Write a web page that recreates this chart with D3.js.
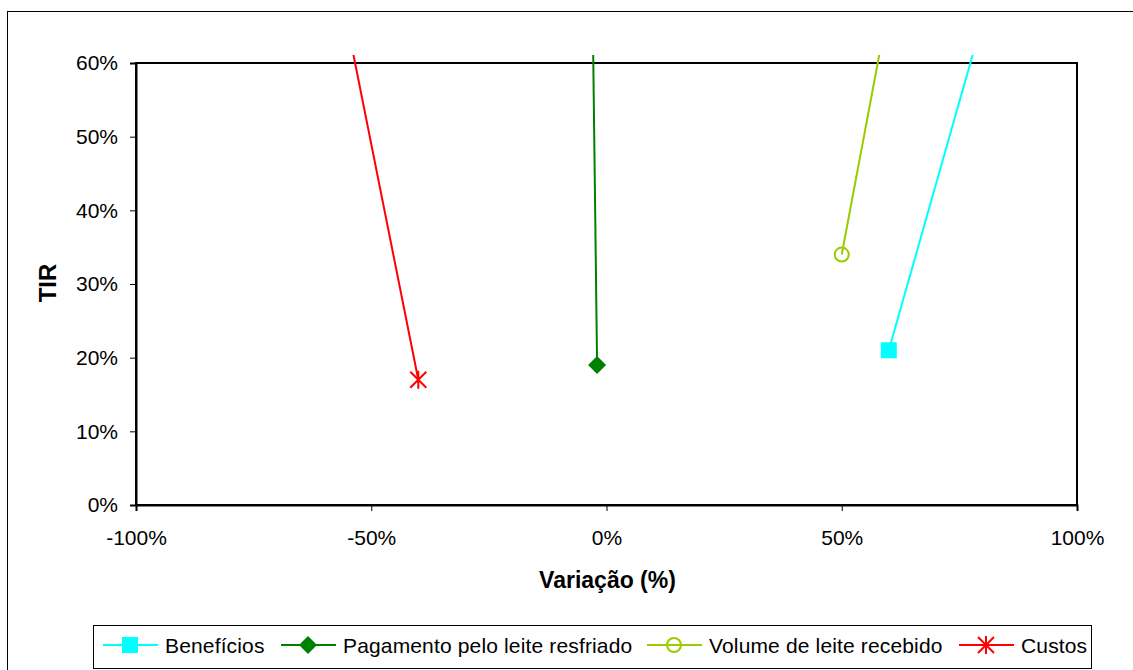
<!DOCTYPE html>
<html>
<head>
<meta charset="utf-8">
<script src="https://cdn.jsdelivr.net/npm/d3@7"></script>
<style>
	body{margin:0;background:#fff;}
	svg{font-family:"Liberation Sans", Arial, sans-serif;}
</style>
</head>
<body>
<svg id="chart" width="1133" height="670"></svg>
<script>
// variation (%) and TIR (%) per series, second point lies above the axis
const beneficios = [{x: 60, y: 21}, {x: 80, y: 66}];
const pagamento = [{x: -2, y: 19}, {x: -3, y: 70}];
const volume = [{x: 50, y: 34}, {x: 60, y: 68}];
const custos = [{x: -40, y: 17}, {x: -60, y: 81}];
const seriesNames = ["Benefícios", "Pagamento pelo leite resfriado", "Volume de leite recebido", "Custos"];
const xTicks = [-100, -50, 0, 50, 100];
const yTicks = [0, 10, 20, 30, 40, 50, 60];

const svg = d3.select("#chart");
const plotLeft = 136, plotRight = 1077, plotTop = 63, plotBottom = 505;

const x = d3.scaleLinear().domain([-100, 100]).range([plotLeft, plotRight]);
const y = d3.scaleLinear().domain([0, 60]).range([plotBottom, plotTop]);

// outer chart border
svg.append("rect")
	.attr("x", 7.5).attr("y", 11.5)
	.attr("width", 1140).attr("height", 670)
	.attr("fill", "none").attr("stroke", "#000").attr("stroke-width", 1);

// plot area
svg.append("rect")
	.attr("x", plotLeft).attr("y", plotTop)
	.attr("width", plotRight - plotLeft).attr("height", plotBottom - plotTop)
	.attr("fill", "none").attr("stroke", "#000").attr("stroke-width", 2);

const fmt = d => d + "%";

const yAxis = svg.append("g")
	.attr("transform", "translate(" + plotLeft + ",0)")
	.call(d3.axisLeft(y).tickValues(yTicks).tickFormat(fmt).tickSize(6).tickPadding(12));
const xAxis = svg.append("g")
	.attr("transform", "translate(0," + plotBottom + ")")
	.call(d3.axisBottom(x).tickValues(xTicks).tickFormat(fmt).tickSize(6).tickPadding(19));

[xAxis, yAxis].forEach(function(a){
	a.select(".domain").attr("stroke", "#000").attr("stroke-width", 2);
	a.selectAll(".tick line").attr("stroke", "#000").attr("stroke-width", 1);
	a.selectAll("text").attr("font-size", 21).attr("fill", "#000")
		.attr("font-family", "Liberation Sans, Arial, sans-serif");
});

// axis titles
svg.append("text")
	.attr("x", x(0) + 1).attr("y", 588)
	.attr("text-anchor", "middle")
	.attr("font-size", 23).attr("font-weight", "bold")
	.text("Variação (%)");
svg.append("text")
	.attr("transform", "translate(56," + (y(30) - 1) + ") rotate(-90)")
	.attr("text-anchor", "middle")
	.attr("font-size", 24).attr("font-weight", "bold")
	.text("TIR");

// clip lines a little above the plot top, like the original
svg.append("clipPath").attr("id", "clip")
	.append("rect")
	.attr("x", plotLeft).attr("y", plotTop - 8)
	.attr("width", plotRight - plotLeft).attr("height", plotBottom - plotTop + 8);

const series = [
	{name: seriesNames[0], data: beneficios, color: "#00FFFF", marker: "square"},
	{name: seriesNames[1], data: pagamento, color: "#008000", marker: "diamond"},
	{name: seriesNames[2], data: volume, color: "#99CC00", marker: "circle"},
	{name: seriesNames[3], data: custos, color: "#FF0000", marker: "star"}
];

const line = d3.line().x(d => x(d.x)).y(d => y(d.y));

const plot = svg.append("g").attr("clip-path", "url(#clip)");
plot.selectAll("path.series")
	.data(series)
	.enter().append("path")
	.attr("class", "series")
	.attr("d", d => line(d.data))
	.attr("fill", "none")
	.attr("stroke", d => d.color)
	.attr("stroke-width", 2);

function drawMarker(g, type, color, cx, cy){
	if(type === "square"){
		g.append("rect").attr("x", cx - 8).attr("y", cy - 8)
			.attr("width", 16).attr("height", 16).attr("fill", color);
	}
	else if(type === "diamond"){
		g.append("path")
			.attr("d", "M" + cx + "," + (cy - 9) + "L" + (cx + 9) + "," + cy + "L" + cx + "," + (cy + 9) + "L" + (cx - 9) + "," + cy + "Z")
			.attr("fill", color);
	}
	else if(type === "circle"){
		g.append("circle").attr("cx", cx).attr("cy", cy).attr("r", 7)
			.attr("fill", "none").attr("stroke", color).attr("stroke-width", 2);
	}
	else {
		let s = 8;
		g.append("path")
			.attr("d", "M" + (cx - s) + "," + (cy - s) + "L" + (cx + s) + "," + (cy + s) +
				"M" + (cx - s) + "," + (cy + s) + "L" + (cx + s) + "," + (cy - s) +
				"M" + cx + "," + (cy - s - 1) + "L" + cx + "," + (cy + s + 1))
			.attr("stroke", color).attr("stroke-width", 2).attr("fill", "none");
	}
}

// markers only for points inside the axis range
series.forEach(function(s){
	s.data.filter(d => d.y <= 60 && d.y >= 0).forEach(function(d){
		drawMarker(svg.append("g"), s.marker, s.color, x(d.x), y(d.y));
	});
});

// legend
svg.append("rect")
	.attr("x", 93.5).attr("y", 625.5)
	.attr("width", 998).attr("height", 43)
	.attr("fill", "#fff").attr("stroke", "#000").attr("stroke-width", 1);

const legendX = [103, 281, 647, 959];
const legendY = 645;
series.forEach(function(s, i){
	let g = svg.append("g");
	let lx = legendX[i];
	g.append("line").attr("x1", lx).attr("x2", lx + 55)
		.attr("y1", legendY).attr("y2", legendY)
		.attr("stroke", s.color).attr("stroke-width", 2);
	drawMarker(g, s.marker, s.color, lx + 27, legendY);
	g.append("text").attr("x", lx + 62).attr("y", legendY + 8)
		.attr("font-size", 21).attr("letter-spacing", 0.15).text(s.name);
});
</script>
</body>
</html>
